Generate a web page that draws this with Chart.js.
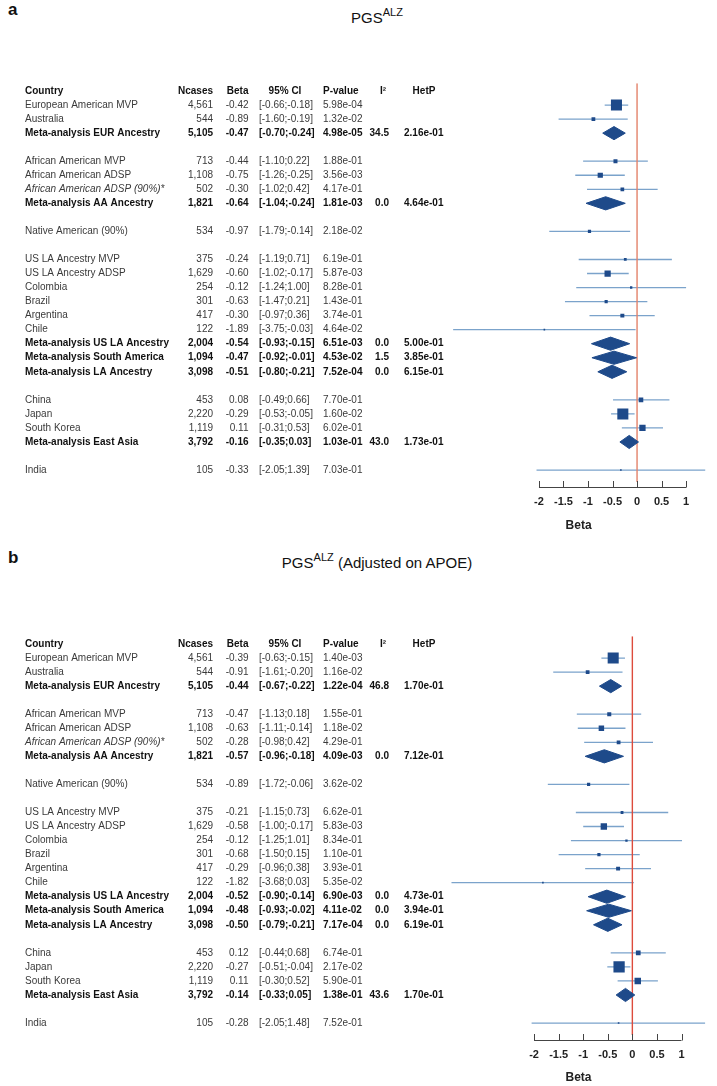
<!DOCTYPE html>
<html>
<head>
<meta charset="utf-8">
<script src="https://cdn.jsdelivr.net/npm/chart.js@4.4.1/dist/chart.umd.min.js"></script>
<style>
  html, body { margin: 0; padding: 0; background: #fff; }
  body { width: 717px; height: 1086px; position: relative; overflow: hidden;
         font-family: "Liberation Sans", Arial, sans-serif; color: #111; }
  canvas { position: absolute; left: 0; }
  #chartA { top: 0; }
  #chartB { top: 553px; }
  .tag { position: absolute; left: 8px; font-weight: bold; font-size: 17px; line-height: 17px; }
  .title { position: absolute; left: 0; width: 754px; text-align: center;
           font-size: 15px; line-height: 15px; white-space: nowrap; }
  .title span { font-size: 11px; position: relative; top: -7px; }
</style>
</head>
<body>
<div class="tag" style="top:1px">a</div>
<div class="title" style="top:10px">PGS<span>ALZ</span></div>
<div class="tag" style="top:549px">b</div>
<div class="title" style="top:555px">PGS<span>ALZ</span> (Adjusted on APOE)</div>
<canvas id="chartA" width="717" height="543"></canvas>
<canvas id="chartB" width="717" height="533"></canvas>
<script>
// rows of the table, '' = blank spacer row
const countries = [
  'European American MVP', 'Australia', 'Meta-analysis EUR Ancestry', '',
  'African American MVP', 'African American ADSP', 'African American ADSP (90%)*', 'Meta-analysis AA Ancestry', '',
  'Native American (90%)', '',
  'US LA Ancestry MVP', 'US LA Ancestry ADSP', 'Colombia', 'Brazil', 'Argentina', 'Chile',
  'Meta-analysis US LA Ancestry', 'Meta-analysis South America', 'Meta-analysis LA Ancestry', '',
  'China', 'Japan', 'South Korea', 'Meta-analysis East Asia', '',
  'India'
];
const ncases = [4561, 544, 5105, null, 713, 1108, 502, 1821, null, 534, null,
  375, 1629, 254, 301, 417, 122, 2004, 1094, 3098, null, 453, 2220, 1119, 3792, null, 105];

// panel a: PGS ALZ
const betaA  = [-0.42, -0.89, -0.47, null, -0.44, -0.75, -0.30, -0.64, null, -0.97, null,
  -0.24, -0.60, -0.12, -0.63, -0.30, -1.89, -0.54, -0.47, -0.51, null, 0.08, -0.29, 0.11, -0.16, null, -0.33];
const lowerA = [-0.66, -1.60, -0.70, null, -1.10, -1.26, -1.02, -1.04, null, -1.79, null,
  -1.19, -1.02, -1.24, -1.47, -0.97, -3.75, -0.93, -0.92, -0.80, null, -0.49, -0.53, -0.31, -0.35, null, -2.05];
const upperA = [-0.18, -0.19, -0.24, null, 0.22, -0.25, 0.42, -0.24, null, -0.14, null,
  0.71, -0.17, 1.00, 0.21, 0.36, -0.03, -0.15, -0.01, -0.21, null, 0.66, -0.05, 0.53, 0.03, null, 1.39];
const pvalA  = [5.98e-4, 1.32e-2, 4.98e-5, null, 1.88e-1, 3.56e-3, 4.17e-1, 1.81e-3, null, 2.18e-2, null,
  6.19e-1, 5.87e-3, 8.28e-1, 1.43e-1, 3.74e-1, 4.64e-2, 6.51e-3, 4.53e-2, 7.52e-4, null,
  7.70e-1, 1.60e-2, 6.02e-1, 1.03e-1, null, 7.03e-1];
const i2A    = [null, null, 34.5, null, null, null, null, 0.0, null, null, null,
  null, null, null, null, null, null, 0.0, 1.5, 0.0, null, null, null, null, 43.0, null, null];
const hetpA  = [null, null, 2.16e-1, null, null, null, null, 4.64e-1, null, null, null,
  null, null, null, null, null, null, 5.00e-1, 3.85e-1, 6.15e-1, null, null, null, null, 1.73e-1, null, null];

// panel b: PGS ALZ adjusted on APOE
const betaB  = [-0.39, -0.91, -0.44, null, -0.47, -0.63, -0.28, -0.57, null, -0.89, null,
  -0.21, -0.58, -0.12, -0.68, -0.29, -1.82, -0.52, -0.48, -0.50, null, 0.12, -0.27, 0.11, -0.14, null, -0.28];
const lowerB = [-0.63, -1.61, -0.67, null, -1.13, -1.11, -0.98, -0.96, null, -1.72, null,
  -1.15, -1.00, -1.25, -1.50, -0.96, -3.68, -0.90, -0.93, -0.79, null, -0.44, -0.51, -0.30, -0.33, null, -2.05];
const upperB = [-0.15, -0.20, -0.22, null, 0.18, -0.14, 0.42, -0.18, null, -0.06, null,
  0.73, -0.17, 1.01, 0.15, 0.38, 0.03, -0.14, -0.02, -0.21, null, 0.68, -0.04, 0.52, 0.05, null, 1.48];
const pvalB  = [1.40e-3, 1.16e-2, 1.22e-4, null, 1.55e-1, 1.18e-2, 4.29e-1, 4.09e-3, null, 3.62e-2, null,
  6.62e-1, 5.83e-3, 8.34e-1, 1.10e-1, 3.93e-1, 5.35e-2, 6.90e-3, 4.11e-2, 7.17e-4, null,
  6.74e-1, 2.17e-2, 5.90e-1, 1.38e-1, null, 7.52e-1];
const i2B    = [null, null, 46.8, null, null, null, null, 0.0, null, null, null,
  null, null, null, null, null, null, 0.0, 0.0, 0.0, null, null, null, null, 43.6, null, null];
const hetpB  = [null, null, 1.70e-1, null, null, null, null, 7.12e-1, null, null, null,
  null, null, null, null, null, null, 4.73e-1, 3.94e-1, 6.19e-1, null, null, null, null, 1.70e-1, null, null];

const xTicks = [-2, -1.5, -1, -0.5, 0, 0.5, 1];
const headers = ['Country', 'Ncases', 'Beta', '95% CI', 'P-value', 'I²', 'HetP'];

const FONT = '"Liberation Sans", Arial, sans-serif';
const NAVY = '#1e4a8a';
const CI_BLUE = '#7ba3cb';
const Y_MIN = -0.55, Y_MAX = 28.3, REF_END = 27.85;
const DIA_H = 0.47;       // half height of summary diamonds, in rows
const BOX_K = 5.3, BOX_MIN = 1.6;

function fmtExp(v) {
  const [m, e] = v.toExponential(2).split('e');
  const n = parseInt(e, 10);
  return m + 'e' + (n < 0 ? '-' : '+') + String(Math.abs(n)).padStart(2, '0');
}

const tablePlugin = {
  id: 'table',
  afterDraw(chart, args, opts) {
    const { ctx } = chart;
    const y = chart.scales.y;
    const font = (b, it) => (it ? 'italic ' : '') + (b ? 'bold ' : '') + '10px ' + FONT;
    const put = (txt, x, yy, align, b, it) => {
      ctx.font = font(b, it);
      ctx.textAlign = align;
      ctx.fillStyle = b ? '#111' : '#3a3a3a';
      ctx.fillText(txt, x, yy);
    };
    ctx.save();
    ctx.textBaseline = 'middle';
    const hy = y.getPixelForValue(0);
    put(headers[0], 25, hy, 'left', true);
    put(headers[1], 213, hy, 'right', true);
    put(headers[2], 248.5, hy, 'right', true);
    put(headers[3], 285, hy, 'center', true);
    put(headers[4], 323, hy, 'left', true);
    put(headers[5], 383, hy, 'center', true);
    put(headers[6], 424, hy, 'center', true);
    countries.forEach((name, i) => {
      if (!name) return;
      const yy = y.getPixelForValue(i + 1);
      const b = name.startsWith('Meta-analysis');
      put(name, 25, yy, 'left', b, name.endsWith('*'));
      put(ncases[i].toLocaleString('en-US'), 213, yy, 'right', b);
      put(opts.beta[i].toFixed(2), 248.5, yy, 'right', b);
      put('[' + opts.lower[i].toFixed(2) + ';' + opts.upper[i].toFixed(2) + ']', 259, yy, 'left', b);
      put(fmtExp(opts.pval[i]), 323, yy, 'left', b);
      if (opts.i2[i] !== null) put(opts.i2[i].toFixed(1), 389, yy, 'right', b);
      if (opts.hetp[i] !== null) put(fmtExp(opts.hetp[i]), 404, yy, 'left', b);
    });
    ctx.restore();
  }
};

// R style axis: line from first to last tick, ticks pointing up
const axisPlugin = {
  id: 'rAxis',
  afterDraw(chart) {
    const { ctx, chartArea } = chart;
    const x = chart.scales.x;
    const yb = Math.round(chartArea.bottom) - 0.5;
    ctx.save();
    ctx.strokeStyle = '#444';
    ctx.lineWidth = 1;
    ctx.beginPath();
    ctx.moveTo(x.getPixelForValue(xTicks[0]), yb);
    ctx.lineTo(x.getPixelForValue(xTicks[xTicks.length - 1]), yb);
    xTicks.forEach(v => {
      const px = Math.round(x.getPixelForValue(v)) + 0.5;
      ctx.moveTo(px, yb);
      ctx.lineTo(px, yb - 6.5);
    });
    ctx.stroke();
    ctx.restore();
  }
};

function makeChart(id, p) {
  const ci = [], boxes = [], diamonds = [];
  countries.forEach((name, i) => {
    if (!name) return;
    const r = i + 1, lo = p.lower[i], hi = p.upper[i], b = p.beta[i];
    if (name.startsWith('Meta-analysis')) {
      diamonds.push({
        data: [{ x: lo, y: r }, { x: b, y: r - DIA_H }, { x: hi, y: r }, { x: b, y: r + DIA_H }, { x: lo, y: r }],
        showLine: true, fill: 'shape', backgroundColor: NAVY, borderColor: NAVY,
        borderWidth: 1, pointRadius: 0, order: 0
      });
    } else {
      ci.push({ x: lo, y: r }, { x: hi, y: r }, { x: null, y: null });
      boxes.push({ x: b, y: r, s: Math.max(BOX_MIN, BOX_K / (hi - lo)) });
    }
  });

  new Chart(document.getElementById(id), {
    type: 'scatter',
    data: {
      datasets: [
        { data: ci, showLine: true, spanGaps: false, borderColor: CI_BLUE, borderWidth: 1.3, pointRadius: 0, order: 3 },
        { data: [{ x: 0, y: Y_MIN }, { x: 0, y: REF_END }], showLine: true, borderColor: p.refColor,
          borderWidth: 1.4, pointRadius: 0, order: 2 },
        { data: boxes, pointStyle: 'rect', backgroundColor: NAVY, borderWidth: 0,
          pointRadius: c => c.raw.s / Math.SQRT2, order: 1 },
        ...diamonds
      ]
    },
    options: {
      responsive: false,
      animation: false,
      events: [],
      layout: { padding: { top: 83.3, left: 448, right: 0, bottom: 0 } },
      plugins: {
        legend: { display: false },
        tooltip: { enabled: false },
        table: { beta: p.beta, lower: p.lower, upper: p.upper, pval: p.pval, i2: p.i2, hetp: p.hetp }
      },
      scales: {
        x: {
          type: 'linear', min: p.xMin, max: p.xMax,
          afterBuildTicks: s => { s.ticks = xTicks.map(v => ({ value: v })); },
          afterFit: s => { s.height = p.axisH; },
          grid: { display: false, drawTicks: false },
          border: { display: false },
          ticks: { autoSkip: false, maxRotation: 0, padding: 7, color: '#222',
                   font: { family: FONT, size: 11, weight: 'bold' }, callback: v => String(v) },
          title: { display: true, text: 'Beta', color: '#222',
                   font: { family: FONT, size: 12, weight: 'bold' }, padding: { top: 0, bottom: p.titlePad } }
        },
        y: { type: 'linear', display: false, reverse: true, min: Y_MIN, max: Y_MAX }
      }
    },
    plugins: [tablePlugin, axisPlugin]
  });
}

makeChart('chartA', {
  beta: betaA, lower: lowerA, upper: upperA, pval: pvalA, i2: i2A, hetp: hetpA,
  xMin: -3.855, xMax: 1.471, refColor: '#e3826a', axisH: 54.7, titlePad: 9.8
});
makeChart('chartB', {
  beta: betaB, lower: lowerB, upper: upperB, pval: pvalB, i2: i2B, hetp: hetpB,
  xMin: -3.751, xMax: 1.560, refColor: '#dd4b3c', axisH: 44.7, titlePad: 0.8
});
</script>
</body>
</html>
